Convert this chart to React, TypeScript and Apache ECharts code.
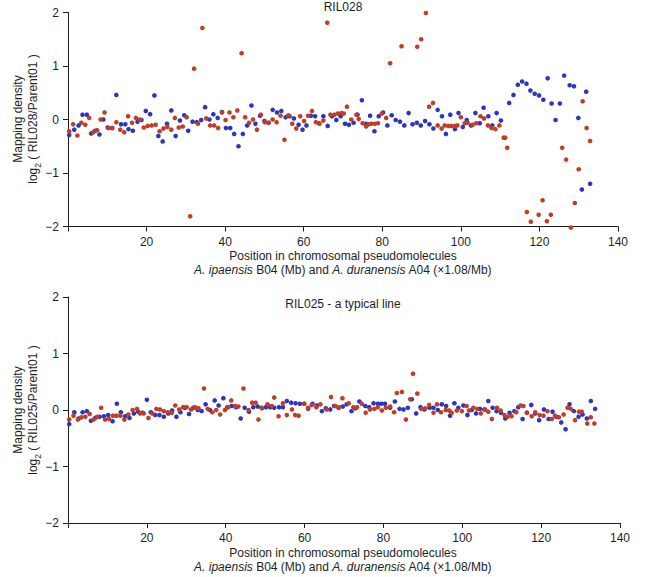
import React, { useEffect, useRef } from "react";
import * as echarts from "echarts";

// ---------- DATA ----------
const xTicks = [20, 40, 60, 80, 100, 120, 140];
const yTicks = [2, 1, 0, -1, -2];

const ril028BlueX = [0.3,1.6,2.7,3.7,4.8,5.9,6.9,8.0,9.0,10.1,11.2,12.3,13.5,14.6,15.4,16.5,17.7,18.7,19.8,20.9,22.0,23.0,24.1,25.2,26.3,27.4,28.5,29.6,30.6,31.7,32.8,33.9,34.9,36.0,37.0,38.1,39.2,40.2,41.3,42.3,43.4,44.5,45.6,46.7,47.7,48.9,50.0,51.0,52.1,53.2,54.3,55.4,56.4,57.5,58.7,59.7,60.7,61.8,62.9,63.9,65.0,66.1,67.2,68.3,69.4,70.5,71.5,72.7,73.7,74.8,75.9,76.9,78.0,79.1,80.2,81.3,82.4,83.4,84.5,85.6,86.7,87.7,88.8,89.8,90.9,92.0,93.0,94.1,95.2,96.2,97.3,98.5,99.4,100.5,101.5,102.6,103.7,104.8,105.8,107.0,108.0,109.1,110.2,112.3,113.4,114.5,115.6,116.7,117.7,118.8,119.9,121.0,122.1,123.1,124.1,125.2,126.3,127.7,128.8,129.9,130.8,131.9,132.9];
const ril028BlueY = [-0.29,-0.19,-0.11,0.09,0.09,-0.26,-0.21,-0.28,0.0,-0.15,-0.16,0.46,-0.09,-0.09,-0.18,-0.21,-0.04,-0.01,0.16,0.10,0.45,-0.31,-0.41,-0.08,0.17,-0.31,-0.02,0.08,-0.21,-0.04,-0.05,-0.01,0.23,0.0,0.10,0.03,0.14,-0.16,-0.16,-0.27,-0.50,-0.27,-0.11,0.26,-0.08,0.07,-0.03,-0.06,0.18,0.13,0.16,0.04,0.06,0.02,-0.10,-0.19,-0.11,0.07,0.06,-0.07,0.06,-0.12,0.06,-0.01,0.06,-0.08,-0.10,-0.06,0.09,0.36,-0.08,0.07,-0.22,0.06,0.13,-0.11,0.08,-0.01,-0.04,-0.11,0.12,-0.09,-0.06,-0.11,-0.03,-0.09,-0.17,0.18,0.06,-0.27,0.09,-0.18,0.12,-0.14,-0.01,-0.11,0.12,-0.07,0.22,0.06,-0.11,0.12,-0.02,0.31,0.46,0.65,0.71,0.67,0.54,0.48,0.45,0.37,0.77,0.30,-0.01,0.30,0.82,0.64,0.62,0.03,-1.31,0.52,-1.20];

const ril028RedX = [0.3,1.3,2.4,3.4,4.4,5.4,6.4,7.4,8.3,9.3,10.3,11.3,12.3,13.3,14.3,15.3,16.3,17.3,18.3,19.3,20.3,21.3,22.3,23.3,24.3,25.3,26.3,27.2,28.2,29.2,30.2,31.1,32.1,33.1,34.2,35.2,36.2,37.2,38.2,39.2,40.1,41.1,42.1,43.1,44.2,45.1,46.1,47.1,48.1,49.1,50.1,51.1,52.1,53.1,54.1,55.1,56.1,57.1,58.1,59.1,60.1,61.1,62.1,63.1,64.0,65.0,66.0,66.8,67.8,68.7,69.6,70.2,71.0,72.1,73.4,74.0,75.0,75.9,76.5,77.2,78.1,78.9,79.9,81.0,82.0,84.9,88.9,89.9,91.1,91.9,92.9,94.1,95.1,95.9,96.8,97.6,98.5,99.1,100.0,101.0,101.7,103.0,103.9,105.0,105.9,106.9,107.8,108.8,109.8,110.9,111.3,111.8,116.8,117.8,119.8,120.8,121.9,122.9,125.8,126.8,128.0,129.0,130.0,131.0,132.0,132.9];
const ril028RedY = [-0.22,-0.09,-0.30,-0.06,-0.10,0.03,-0.24,-0.20,0.0,0.13,-0.16,-0.16,-0.05,-0.19,-0.24,0.06,-0.06,0.03,0.0,-0.15,-0.12,-0.11,-0.10,-0.22,-0.17,-0.14,-0.19,0.03,-0.15,-0.13,0.04,-1.81,0.95,-0.08,1.71,0.02,-0.11,-0.11,-0.16,0.13,-0.01,0.13,0.04,0.17,1.24,0.04,-0.06,0.0,-0.19,0.09,-0.05,-0.06,0.0,-0.05,0.07,-0.38,0.08,-0.08,-0.17,0.06,-0.03,0.07,0.16,-0.05,-0.08,-0.02,1.81,0.09,0.09,0.11,0.12,0.11,0.24,0.0,0.09,0.01,-0.07,-0.13,-0.09,-0.08,-0.08,-0.07,0.11,0.03,1.05,1.37,1.36,1.50,1.99,0.24,0.31,-0.11,-0.17,-0.11,-0.12,-0.12,-0.12,-0.11,0.04,-0.07,-0.06,-0.10,-0.07,0.06,0.02,-0.11,-0.16,-0.18,-0.11,-0.34,-0.34,-0.53,-1.73,-1.91,-1.78,-1.51,-1.90,-1.78,-0.53,-0.75,-2.02,-1.56,-0.93,0.34,-0.16,-0.40];

const ril025BlueX = [0.3,1.6,2.7,3.7,4.8,5.8,6.9,8.0,9.1,10.2,11.3,12.4,13.4,14.5,15.6,16.7,17.8,18.9,20.0,21.0,22.1,23.2,24.3,25.4,26.4,27.5,28.5,29.6,30.7,31.8,32.9,33.9,34.9,36.0,37.2,38.2,39.4,40.4,41.5,42.6,43.8,44.8,45.9,47.0,48.1,49.1,50.2,51.3,52.3,53.5,54.5,55.5,56.6,57.7,58.8,59.9,60.9,62.0,63.1,64.4,65.4,66.5,67.5,68.6,69.7,70.7,71.9,72.9,73.9,75.4,76.4,77.5,78.6,79.5,80.4,81.7,82.9,84.1,85.1,86.2,87.2,88.3,89.4,90.4,91.7,92.7,93.8,94.8,95.9,96.9,98.0,99.0,100.3,101.3,102.4,103.5,104.5,105.6,106.6,107.7,108.7,109.8,110.9,112.0,113.2,114.2,115.3,116.4,117.5,118.5,119.5,120.7,121.9,122.9,123.8,125.1,126.2,127.2,128.3,129.5,130.5,131.6,132.6,133.7];
const ril025BlueY = [-0.25,-0.04,-0.15,-0.04,-0.02,-0.19,-0.14,-0.12,-0.11,-0.09,-0.20,0.11,-0.04,-0.11,-0.14,-0.06,-0.03,-0.05,0.18,-0.04,-0.09,-0.09,-0.12,-0.06,-0.01,-0.12,-0.04,0.04,-0.07,0.04,0.0,-0.02,0.10,0.0,0.17,0.08,0.21,0.05,0.07,0.05,-0.15,0.04,-0.03,0.05,0.06,0.04,0.05,0.05,0.04,0.05,0.05,0.16,0.13,0.12,0.11,0.11,0.02,0.11,0.08,-0.02,0.03,0.01,0.07,0.04,0.06,0.10,-0.02,0.03,0.15,0.07,0.05,0.12,0.11,0.11,0.11,0.04,0.15,0.02,0.01,0.04,0.19,-0.06,0.05,0.01,0.04,0.04,0.0,0.10,0.07,-0.10,0.12,0.04,0.08,-0.09,0.0,-0.06,0.02,0.01,0.16,0.04,-0.02,-0.05,-0.15,-0.05,-0.02,0.05,-0.16,-0.05,0.09,-0.06,-0.18,0.01,-0.16,-0.03,-0.12,-0.22,-0.34,0.10,-0.02,-0.12,-0.08,-0.15,0.16,0.02];

const ril025RedX = [0.3,1.4,2.5,3.4,4.4,5.5,6.5,7.4,8.4,9.4,10.4,11.4,12.3,13.3,14.3,15.3,16.4,17.5,18.3,19.2,20.4,21.4,22.4,23.3,24.3,25.3,26.3,27.2,28.2,29.2,30.1,31.2,32.2,33.1,34.5,35.4,36.6,37.6,38.6,39.8,40.6,41.4,42.4,43.2,44.5,45.8,46.7,47.6,48.3,49.2,50.6,51.7,52.3,53.4,54.5,55.5,56.8,57.6,58.5,59.9,60.9,61.8,63.0,64.0,65.6,66.7,67.8,68.8,69.6,71.2,72.4,73.3,74.5,75.5,76.6,77.7,78.6,79.6,80.6,81.7,82.7,83.4,84.7,85.7,86.8,87.5,88.6,89.6,90.6,91.6,92.7,93.6,94.6,95.8,96.7,97.3,98.6,99.9,101.1,101.7,102.8,103.8,104.7,105.8,106.6,107.5,108.8,109.7,110.7,111.5,112.5,113.7,114.8,115.5,116.4,117.6,118.5,119.6,120.6,121.6,122.7,123.5,124.5,125.7,126.7,127.5,128.6,129.6,130.3,131.7,132.6,133.5];
const ril025RedY = [-0.17,-0.10,-0.17,-0.13,-0.12,-0.07,-0.17,-0.12,0.04,-0.17,-0.16,-0.10,-0.10,-0.10,-0.17,-0.08,0.0,0.02,-0.06,-0.06,-0.14,-0.06,0.02,0.01,-0.02,-0.04,-0.05,0.08,0.01,0.05,0.05,0.01,0.05,0.03,0.38,0.02,-0.04,0.0,-0.08,0.0,0.05,0.17,0.07,0.06,0.38,0.0,0.13,0.13,-0.17,0.03,0.10,0.07,0.22,-0.11,0.12,-0.09,0.01,-0.09,-0.10,0.11,0.04,0.09,0.05,0.10,0.01,0.23,0.07,0.05,0.21,0.12,0.05,0.05,0.11,-0.05,0.01,0.02,0.05,-0.01,0.04,0.06,-0.04,0.30,0.32,-0.17,0.19,0.64,0.29,0.02,0.03,0.09,-0.05,0.10,-0.04,0.0,-0.01,-0.05,-0.01,-0.02,0.07,-0.01,0.04,0.02,-0.06,0.01,-0.03,-0.16,0.04,-0.01,-0.09,-0.12,-0.11,-0.04,0.08,0.07,-0.05,-0.11,-0.04,-0.09,-0.10,-0.02,-0.16,-0.10,-0.13,-0.08,0.04,0.02,-0.18,-0.03,-0.03,-0.24,-0.13,-0.24];

const panelTitles = ["RIL028", "RIL025 - a typical line"];
const yNameLine1 = "Mapping density";
const yRatioLabels = ["RIL028/Parent01", "RIL025/Parent01"];
const xNameLine1 = "Position in chromosomal pseudomolecules";

const BLUE = "#2b36bd";
const RED = "#c23d26";
const FONT = "'Liberation Sans', Arial, Helvetica, sans-serif";
const TEXT = "#1e1e1e";
const FS = 12;

const zip = (xs: number[], ys: number[]) => xs.map((x, i) => [x, ys[i]]);

export default function App() {
  const ref = useRef<HTMLDivElement>(null);
  useEffect(() => {
    if (!ref.current) return;
    const chart = echarts.init(ref.current, null, { renderer: "svg" });
    const grids = [
      { left: 68, top: 12.5, width: 550, height: 214 },
      { left: 68, top: 297, width: 552, height: 226 },
    ];
    const xAxisCfg = (gridIndex: number) => ({
      type: "value",
      gridIndex,
      min: 0,
      max: 140,
      interval: 20,
      axisLine: { show: true, onZero: false, lineStyle: { color: TEXT, width: 1 } },
      axisTick: { show: true, length: 5, lineStyle: { color: TEXT, width: 1 } },
      axisLabel: {
        color: TEXT,
        fontSize: FS,
        fontFamily: FONT,
        margin: 9,
        formatter: (v: number) => (xTicks.includes(v) ? String(v) : ""),
      },
      splitLine: { show: false },
    });
    const yAxisCfg = (gridIndex: number) => ({
      type: "value",
      gridIndex,
      min: -2,
      max: 2,
      interval: 1,
      axisLine: { show: true, onZero: false, lineStyle: { color: TEXT, width: 1 } },
      axisTick: { show: true, length: 5, lineStyle: { color: TEXT, width: 1 } },
      axisLabel: {
        color: TEXT,
        fontSize: FS,
        fontFamily: FONT,
        margin: 9,
        formatter: (v: number) => (yTicks.includes(v) ? String(v).replace("-", "\u2212") : ""),
      },
      splitLine: { show: false },
    });
    const scatter = (idx: number, data: number[][], color: string) => ({
      type: "scatter",
      xAxisIndex: idx,
      yAxisIndex: idx,
      data,
      symbolSize: 4.6,
      clip: false,
      itemStyle: { color, opacity: 1 },
      emphasis: { disabled: true },
    });
    const txt = (x: number, y: number, text: string, extra: any = {}, rot = 0) => ({
      type: "text",
      x,
      y,
      rotation: rot,
      silent: true,
      style: {
        text,
        fontSize: FS,
        fontFamily: FONT,
        fill: TEXT,
        align: "center",
        verticalAlign: "middle",
        ...extra,
      },
    });
    const italicRich = {
      i: { fontStyle: "italic", fontSize: FS, fontFamily: FONT, color: TEXT },
      n: { fontSize: FS, fontFamily: FONT, color: TEXT },
    };
    const logRich = {
      n: { fontSize: FS, fontFamily: FONT, color: TEXT, lineHeight: 18 },
      sub: { fontSize: 8.5, fontFamily: FONT, color: TEXT, lineHeight: 9, verticalAlign: "bottom" },
    };
    const xLine2 = "{i|A. ipaensis}{n| B04 (Mb) and }{i|A. duranensis}{n| A04 (\u00d71.08/Mb)}";
    const panelY = [
      { title: 7, zero: 119, name1: 256, name2: 269.5 },
      { title: 304, zero: 410, name1: 553, name2: 566.5 },
    ];
    const graphics: any[] = [];
    panelY.forEach((p, i) => {
      graphics.push(txt(343, p.title, panelTitles[i]));
      graphics.push(txt(343, p.name1, xNameLine1));
      graphics.push(txt(343, p.name2, xLine2, { rich: italicRich }));
      graphics.push(txt(18, p.zero, yNameLine1, {}, Math.PI / 2));
      graphics.push(
        txt(33, p.zero, "{n|log}{sub|2}{n| ( " + yRatioLabels[i] + " )}", { rich: logRich }, Math.PI / 2)
      );
    });

    chart.setOption({
      animation: false,
      backgroundColor: "#ffffff",
      grid: grids,
      xAxis: [xAxisCfg(0), xAxisCfg(1)],
      yAxis: [yAxisCfg(0), yAxisCfg(1)],
      series: [
        scatter(0, zip(ril028BlueX, ril028BlueY), BLUE),
        scatter(0, zip(ril028RedX, ril028RedY), RED),
        scatter(1, zip(ril025BlueX, ril025BlueY), BLUE),
        scatter(1, zip(ril025RedX, ril025RedY), RED),
      ],
      graphic: graphics,
    });
    return () => chart.dispose();
  }, []);
  return (
    <div
      ref={ref}
      style={{ position: "absolute", left: 0, top: 0, width: 645, height: 577, background: "#fff" }}
    />
  );
}
